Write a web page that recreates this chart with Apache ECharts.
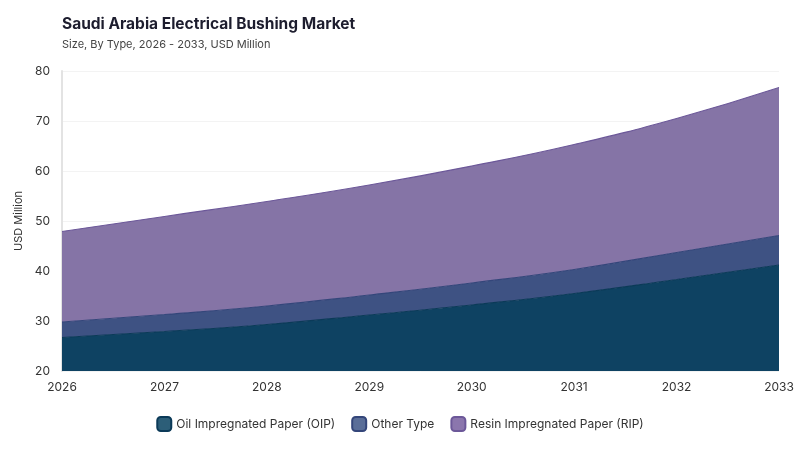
<!DOCTYPE html>
<html>
<head>
<meta charset="utf-8">
<script src="https://cdn.jsdelivr.net/npm/echarts@6/dist/echarts.min.js"></script>
<style>
html,body{margin:0;padding:0;background:#fff;}
#chart{width:800px;height:450px;}
</style>
</head>
<body>
<div id="chart"></div>
<script>
// data
var years = ['2026','2027','2028','2029','2030','2031','2032','2033'];
var oip = [26.7, 27.9, 29.3, 31.2, 33.2, 35.5, 38.3, 41.2];
var other = [3.1, 3.4, 3.7, 4.0, 4.4, 4.8, 5.4, 5.9];
var rip = [18.1, 19.6, 20.9, 22.0, 23.4, 25.0, 26.8, 29.6];
var yTicks = [20, 30, 40, 50, 60, 70, 80];

var font = 'Inter, "DejaVu Sans", sans-serif';
var chart = echarts.init(document.getElementById('chart'));

function areaSeries(name, data, fill, line, icon){
	return {
		name: name,
		type: 'line',
		stack: 'total',
		data: data,
		smooth: true,
		symbol: 'none',
		lineStyle: {width: 1.2, color: line},
		areaStyle: {color: fill, opacity: 1},
		itemStyle: {color: icon, borderColor: line, borderWidth: 1}
	};
}

chart.setOption({
	animation: false,
	title: {
		text: 'Saudi Arabia Electrical Bushing Market',
		subtext: 'Size, By Type, 2026 - 2033, USD Million',
		left: 57, top: 11, itemGap: 7,
		textStyle: {fontFamily: font, fontSize: 15.5, fontWeight: 'bold', color: '#1d1d2e'},
		subtextStyle: {fontFamily: font, fontSize: 11, color: '#444'}
	},
	legend: {
		bottom: 13,
		left: 'center',
		icon: 'roundRect',
		itemWidth: 14, itemHeight: 14, itemGap: 16,
		textStyle: {fontFamily: font, fontSize: 12, color: '#333'},
		data: ['Oil Impregnated Paper (OIP)', 'Other Type', 'Resin Impregnated Paper (RIP)']
	},
	grid: {left: 62, right: 21, top: 71, bottom: 79},
	xAxis: {
		type: 'category',
		boundaryGap: false,
		data: years,
		axisLine: {show: false},
		axisTick: {show: false},
		axisLabel: {fontFamily: font, fontSize: 12, color: '#333', margin: 10}
	},
	yAxis: {
		type: 'value',
		min: yTicks[0], max: yTicks[yTicks.length-1], interval: 10,
		name: 'USD Million',
		nameLocation: 'middle',
		nameGap: 36,
		nameTextStyle: {fontFamily: font, fontSize: 11, color: '#333'},
		axisLine: {show: true, lineStyle: {color: '#e3e3e3', width: 2}},
		axisTick: {show: false},
		axisLabel: {fontFamily: font, fontSize: 12, color: '#333', margin: 12},
		splitLine: {lineStyle: {color: '#f3f3f3'}}
	},
	series: [
		areaSeries('Oil Impregnated Paper (OIP)', oip, '#0e4262', '#0b3a58', '#2c5e78'),
		areaSeries('Other Type', other, '#3e5283', '#34467a', '#5a6e98'),
		areaSeries('Resin Impregnated Paper (RIP)', rip, '#8574a6', '#6c5899', '#8b76ad')
	]
});
</script>
</body>
</html>
